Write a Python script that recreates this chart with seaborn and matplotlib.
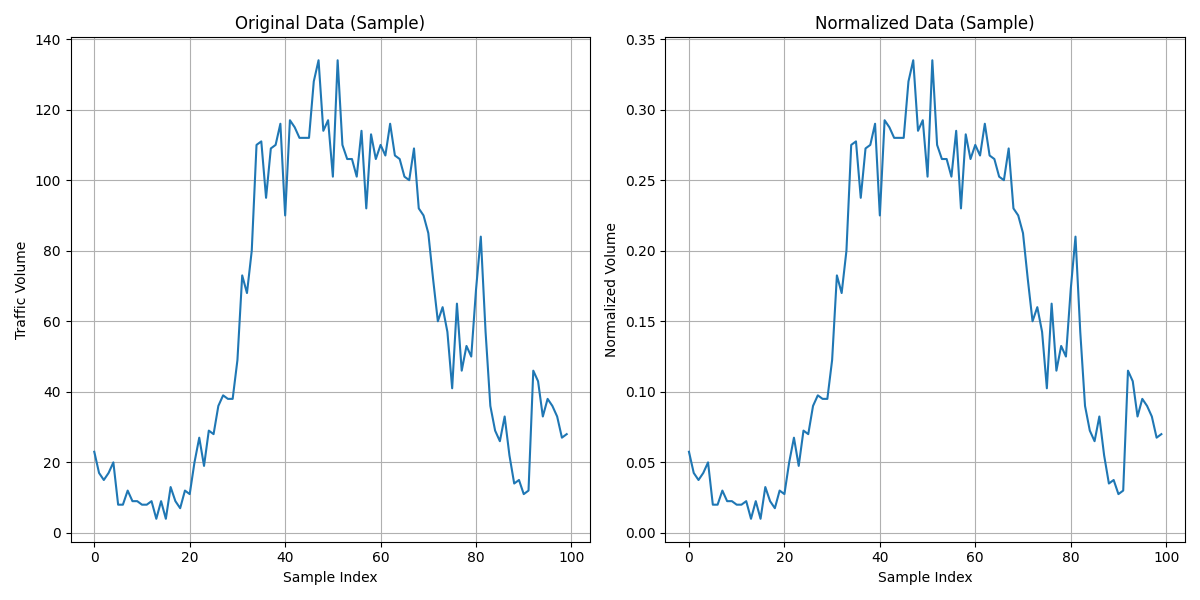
import numpy as np
import matplotlib
matplotlib.use("Agg")
import matplotlib.pyplot as plt
import seaborn as sns

# traffic volume per sample
traffic = [23, 17, 15, 17, 20, 8, 8, 12, 9, 9,
           8, 8, 9, 4, 9, 4, 13, 9, 7, 12,
           11, 20, 27, 19, 29, 28, 36, 39, 38, 38,
           49, 73, 68, 80, 110, 111, 95, 109, 110, 116,
           90, 117, 115, 112, 112, 112, 128, 134, 114, 117,
           101, 134, 110, 106, 106, 101, 114, 92, 113, 106,
           110, 107, 116, 107, 106, 101, 100, 109, 92, 90,
           85, 72, 60, 64, 57, 41, 65, 46, 53, 50,
           69, 84, 57, 36, 29, 26, 33, 22, 14, 15,
           11, 12, 46, 43, 33, 38, 36, 33, 27, 28]
sample_index = np.arange(len(traffic))
# normalized series in the chart is the volume scaled by 400
normalized = np.array(traffic) / 400.0

fig, axes = plt.subplots(1, 2, figsize=(12, 6), dpi=100)

sns.lineplot(x=sample_index, y=traffic, ax=axes[0], color="#1f77b4", linewidth=1.5)
axes[0].set_title("Original Data (Sample)")
axes[0].set_xlabel("Sample Index")
axes[0].set_ylabel("Traffic Volume")
axes[0].grid(True)

sns.lineplot(x=sample_index, y=normalized, ax=axes[1], color="#1f77b4", linewidth=1.5)
axes[1].set_title("Normalized Data (Sample)")
axes[1].set_xlabel("Sample Index")
axes[1].set_ylabel("Normalized Volume")
axes[1].grid(True)

plt.tight_layout()
plt.savefig("out.png")
